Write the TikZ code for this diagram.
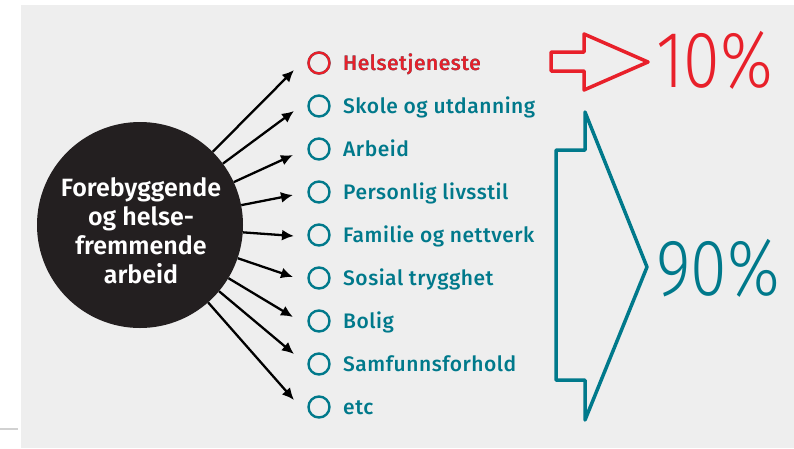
\documentclass[tikz,border=0pt]{standalone}
\usepackage{fontspec}
\setmainfont{Fira Sans Medium}[BoldFont={Fira Sans SemiBold}]
\newfontfamily\thinfont{Fira Sans Light}
\usepackage{xcolor}
\usetikzlibrary{arrows.meta}
\definecolor{hubblack}{HTML}{231F20}
\definecolor{panelgray}{HTML}{EEEEEE}
\definecolor{redline}{HTML}{E8202A}
\definecolor{tealline}{HTML}{00798B}
\tikzset{
  itemdot/.style={circle,draw=tealline,line width=2.4pt,minimum size=21pt,inner sep=0pt},
  itemtext/.style={anchor=base west,inner sep=0pt,text=tealline,font=\fontsize{21}{25}\selectfont\addfontfeatures{LetterSpace=2.5}},
  spoke/.style={line width=2.3pt,-{Latex[length=12pt,width=11pt]}},
  bigpct/.style={anchor=base west,inner sep=0pt,font=\thinfont\fontsize{80}{84}\selectfont,xscale=0.83,transform shape}
}

\begin{document}
\begin{tikzpicture}[x=1pt,y=-1pt]
			\useasboundingbox (0,0) rectangle (794,448);
			\fill[white] (0,0) rectangle (794,448);
			\fill[panelgray] (21,5) rectangle (794,448);
			\draw[line width=1.5pt,black!18] (0,429) -- (18,429);
			% hub
			\node[circle,fill=hubblack,minimum size=206pt,inner sep=0pt] (hub) at (140,225) {};
			\node[text=white,align=center,font=\bfseries\fontsize{25}{29}\selectfont] (hubtext) at (141,231)
				{Forebyggende\\og helse-\\fremmende\\arbeid};
			% items
			\foreach \Nombre/\Texte/\Y in {1/Helsetjeneste/63,2/Skole og utdanning/106,3/Arbeid/149,
				4/Personlig livsstil/192,5/Familie og nettverk/235,6/Sosial trygghet/278,
				7/Bolig/321,8/Samfunnsforhold/364,9/etc/407}{
				\node[itemdot] (d\Nombre) at (319,\Y) {};
				\node[itemtext] (t\Nombre) at (343,\Y+7) {\Texte};
			}
			\node[itemdot,draw=redline] at (d1) {};
			\node[itemtext,text=redline] at (t1.base west) {Helsetjeneste};
			% arrow tips
			\coordinate (a1) at (294,70);
			\coordinate (a2) at (294,111);
			\coordinate (a3) at (293,155);
			\coordinate (a4) at (293,195);
			\coordinate (a5) at (294,236);
			\coordinate (a6) at (293,277);
			\coordinate (a7) at (293,317);
			\coordinate (a8) at (294,354);
			\coordinate (a9) at (294,400);
			\foreach \Nombre in {1,...,9}
				\draw[spoke] (hub) -- (a\Nombre);
			% 10 %
			\draw[redline,line width=3.5pt,line join=round]
				(551,52) -- (584,52) -- (584,34) -- (648,62) -- (584,90) -- (584,71) -- (551,71) -- cycle;
			\node[bigpct,text=redline] (ti) at (656,87) {10\%};
			% 90 %
			\draw[tealline,line width=3.5pt,line join=round]
				(585,112) -- (585,150) -- (556,150) -- (556,380) -- (585,380) -- (585,420) -- (647,267) -- cycle;
			\node[bigpct,text=tealline] (nittie) at (656,295) {90\%};
		\end{tikzpicture}
\end{document}
